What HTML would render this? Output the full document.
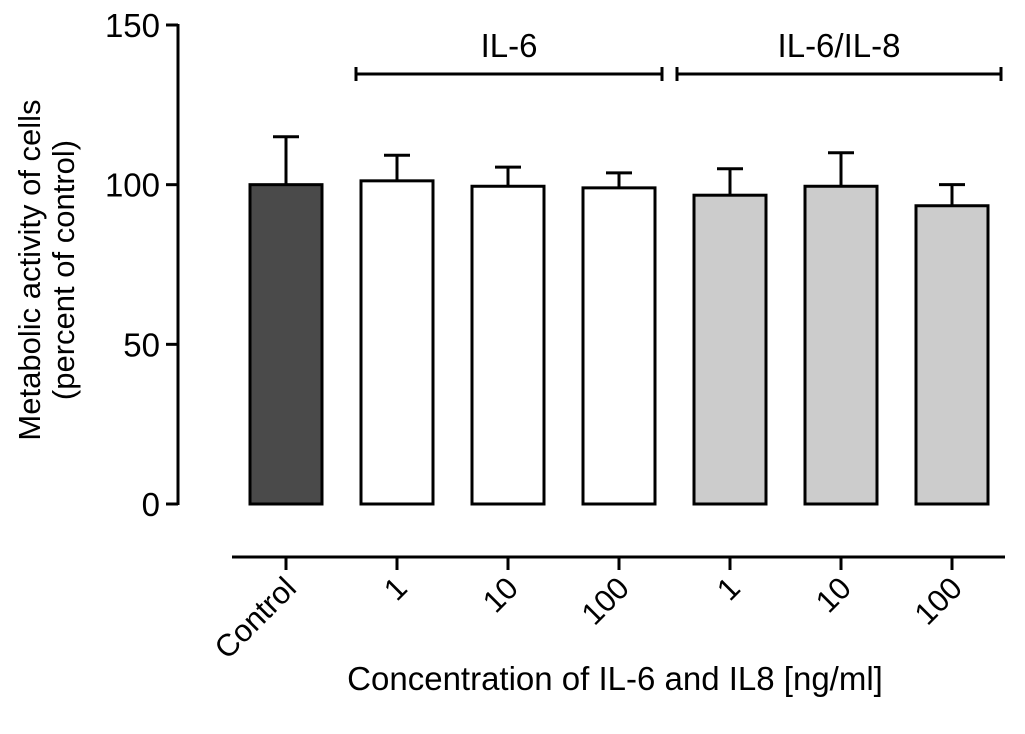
<!DOCTYPE html>
<html><head><meta charset="utf-8"><style>
html,body{margin:0;padding:0;background:#fff;}
svg{display:block;font-family:"Liberation Sans",sans-serif;}
</style></head><body>
<svg id="chart" width="1025" height="734" viewBox="0 0 1025 734" style="position:absolute;left:0;top:0">
<g id="axes"></g><g id="bars"></g>
<text transform="translate(40 270) rotate(-90)" text-anchor="middle" font-size="31px">Metabolic activity of cells</text>
<text transform="translate(74 270) rotate(-90)" text-anchor="middle" font-size="31px">(percent of control)</text>
<text x="615" y="690" text-anchor="middle" font-size="33px">Concentration of IL-6 and IL8 [ng/ml]</text>
</svg>
<script>
const categories = ["Control","1","10","100","1","10","100"];
const values = [100, 101.2, 99.5, 99, 96.7, 99.5, 93.4];
const errors = [15, 8, 6, 4.7, 8.3, 10.5, 6.6];
const fills = ["#4a4a4a","#ffffff","#ffffff","#ffffff","#cccccc","#cccccc","#cccccc"];
const yTicks = [0, 50, 100, 150];
const groups = [{label:"IL-6", from:1, to:3},{label:"IL-6/IL-8", from:4, to:6}];

const NS="http://www.w3.org/2000/svg";
const y0=504, yTop=25, yMax=150;
const yScale=v=>y0-(v/yMax)*(y0-yTop);
const xCenter=i=>286+i*111;
const bw=72;
function mk(tag,attrs,parent,text){const e=document.createElementNS(NS,tag);for(const k in attrs)e.setAttribute(k,attrs[k]);if(text!==undefined)e.textContent=text;parent.appendChild(e);return e;}
const ax=document.getElementById('axes'), bars=document.getElementById('bars');
const SW=3;
let yl=mk('line',{x1:178,y1:yScale(yMax)-1,x2:178,y2:y0+1,stroke:'#000','stroke-width':SW},ax);

yTicks.forEach(t=>{
  const y=yScale(t);
  const l=mk('line',{x1:166,y1:y,x2:178,y2:y,stroke:'#000','stroke-width':SW},ax);
  
  const tx=mk('text',{x:160,y:y+12,'text-anchor':'end','font-size':'33px'},ax,String(t));
  
});
let xl=mk('line',{x1:232,y1:557,x2:1005,y2:557,stroke:'#000','stroke-width':SW},ax);


categories.forEach((c,i)=>{
  const cx=xCenter(i);
  const t=mk('line',{x1:cx,y1:557,x2:cx,y2:570,stroke:'#000','stroke-width':SW},ax);
  
  const lab=mk('text',{x:cx+12,y:590,'text-anchor':'end','font-size':'31px',transform:`rotate(-45 ${cx+12} 590)`},ax,c);
  

  const top=yScale(values[i]), et=yScale(values[i]+errors[i]);
  const el=mk('line',{x1:cx,y1:top,x2:cx,y2:et,stroke:'#000','stroke-width':SW},bars);
  
  const ec=mk('line',{x1:cx-13,y1:et,x2:cx+13,y2:et,stroke:'#000','stroke-width':SW},bars);
  
  const r=mk('rect',{x:cx-bw/2,y:top,width:bw,height:y0-top,fill:fills[i],stroke:'#000','stroke-width':SW},bars);
  
});

groups.forEach((g,k)=>{
  const x1=xCenter(g.from)-(k?53:41), x2=xCenter(g.to)+(k?49:43), y=74;
  const b=mk('path',{d:`M${x1} ${y-7}V${y+7}M${x1} ${y}H${x2}M${x2} ${y-7}V${y+7}`,stroke:'#000','stroke-width':SW,fill:'none'},ax);
  
  const t=mk('text',{x:(x1+x2)/2,y:57,'text-anchor':'middle','font-size':'33px'},ax,g.label);
  
});
</script>
</body></html>
